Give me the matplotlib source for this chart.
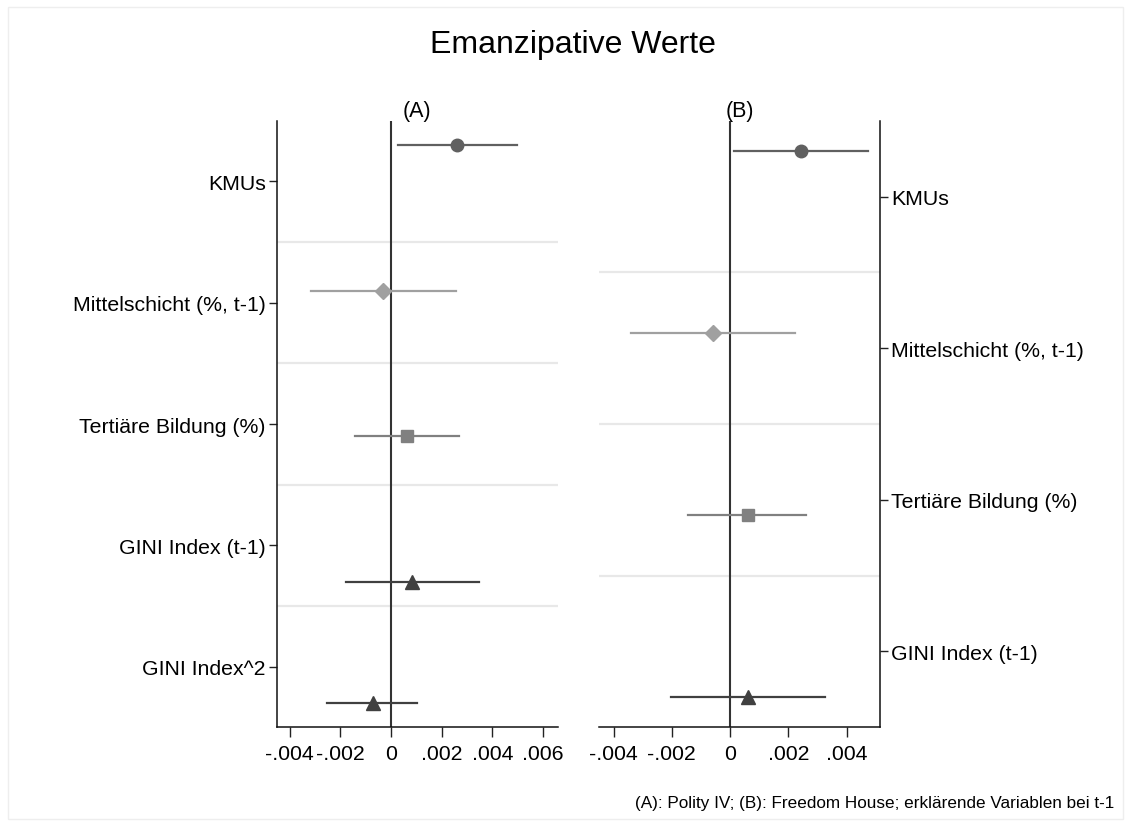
import numpy as np
import matplotlib.pyplot as plt
from matplotlib.patches import Rectangle

plt.rcParams['font.family'] = ['Liberation Sans', 'DejaVu Sans']

# panel A (Polity IV)
labels_a = ['KMUs', 'Mittelschicht (%, t-1)', 'Tertiäre Bildung (%)',
            'GINI Index (t-1)', 'GINI Index^2']
coef_a = [0.00259, -0.00033, 0.00063, 0.00084, -0.00072]
lo_a = [0.00026, -0.00317, -0.00142, -0.00178, -0.00251]
hi_a = [0.00496, 0.00256, 0.00270, 0.00348, 0.00103]
series_a = [0, 1, 2, 3, 3]

# panel B (Freedom House)
labels_b = ['KMUs', 'Mittelschicht (%, t-1)', 'Tertiäre Bildung (%)',
            'GINI Index (t-1)']
coef_b = [0.00243, -0.00060, 0.00060, 0.00062]
lo_b = [0.00014, -0.00341, -0.00143, -0.00204]
hi_b = [0.00473, 0.00224, 0.00262, 0.00326]
series_b = [0, 1, 2, 3]

xticks_a = [-0.004, -0.002, 0, 0.002, 0.004, 0.006]
xticks_b = [-0.004, -0.002, 0, 0.002, 0.004]

markers = ['o', 'D', 's', '^']
msizes = [9, 8.5, 9, 9.5]
colors = ['#606060', '#a0a0a0', '#808080', '#404040']
offsets = [-0.3, -0.1, 0.1, 0.3]


def fmt(v):
    if v == 0:
        return '0'
    s = '%.3f' % v
    return s.replace('0.', '.')


def panel(ax, labels, coef, lo, hi, series, xticks, xlim, side):
    n = len(labels)
    pos = np.arange(1, n + 1)
    for k in range(n - 1):
        ax.axhline(pos[k] + 0.5, color='#e8e8e8', lw=1.6, zorder=0)
    ax.axvline(0, color='#333333', lw=1.5, zorder=1)
    for i in range(n):
        s = series[i]
        y = pos[i] + offsets[s]
        ax.plot([lo[i], hi[i]], [y, y], color=colors[s], lw=1.6, zorder=2)
        ax.plot(coef[i], y, marker=markers[s], ms=msizes[s], color=colors[s],
                mec=colors[s], ls='none', zorder=3)
    ax.set_ylim(n + 0.5, 0.5)
    ax.set_xlim(*xlim)
    ax.set_yticks(pos)
    ax.set_yticklabels(labels, fontsize=15.3)
    ax.set_xticks(xticks)
    ax.set_xticklabels([fmt(v) for v in xticks], fontsize=15.3)
    ax.tick_params(axis='x', length=7, width=1, color='#222222', pad=5)
    ax.tick_params(axis='y', length=6, width=1, color='#222222', pad=2)
    ax.spines['top'].set_visible(False)
    if side == 'left':
        ax.spines['right'].set_visible(False)
    else:
        ax.spines['left'].set_visible(False)
        ax.yaxis.tick_right()
    for sp in ax.spines.values():
        sp.set_linewidth(1.1)
        sp.set_color('#111111')


fig = plt.figure(figsize=(11.31, 8.28), dpi=100)
fig.patches.append(Rectangle((8 / 1131, 8 / 828), 1 - 16 / 1131, 1 - 16 / 828,
                             transform=fig.transFigure, fill=False,
                             ec='#eeeeee', lw=1))

axA = fig.add_axes([0.2447, 0.1204, 0.2485, 0.7326])
axB = fig.add_axes([0.5299, 0.1204, 0.2482, 0.7326])

panel(axA, labels_a, coef_a, lo_a, hi_a, series_a, xticks_a, (-0.00451, 0.00658), 'left')
panel(axB, labels_b, coef_b, lo_b, hi_b, series_b, xticks_b, (-0.00449, 0.00515), 'right')

axA.set_title('(A)', fontsize=15.5, pad=3)
axB.set_title('(B)', fontsize=15.5, pad=3)

fig.text(0.507, 0.946, 'Emanzipative Werte', ha='center', va='center', fontsize=23)
fig.text(0.985, 0.029, '(A): Polity IV; (B): Freedom House; erklärende Variablen bei t-1',
         ha='right', va='center', fontsize=12.3)

fig.savefig('out.png', dpi=100)
